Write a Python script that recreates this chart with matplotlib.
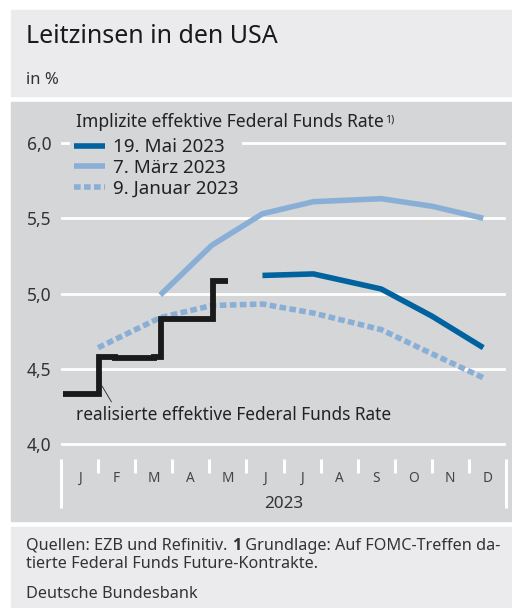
import datetime as dt

import matplotlib.pyplot as plt
from matplotlib.patches import Rectangle

plt.rcParams["font.family"] = ["Noto Sans", "DejaVu Sans"]

# realised effective federal funds rate (daily, step changes)
effr_dates = ["2023-01-03", "2023-02-02", "2023-02-10", "2023-02-14", "2023-03-01",
              "2023-03-10", "2023-03-17", "2023-03-23", "2023-05-04", "2023-05-17"]
effr_values = [4.33, 4.58, 4.58, 4.57, 4.57, 4.57, 4.58, 4.83, 5.08, 5.08]

# FOMC meeting dates for the futures-implied path
fomc_dates = ["2023-02-01", "2023-03-22", "2023-05-03", "2023-06-14",
              "2023-07-26", "2023-09-20", "2023-11-01", "2023-12-13"]
jan9_values = [4.64, 4.84, 4.92, 4.93, 4.87, 4.76, 4.60, 4.44]
mar7_values = [4.99, 5.32, 5.53, 5.61, 5.63, 5.58, 5.50]
may19_values = [5.12, 5.13, 5.03, 4.85, 4.64]

months = ["J", "F", "M", "A", "M", "J", "J", "A", "S", "O", "N", "D"]
y_ticks = [4.0, 4.5, 5.0, 5.5, 6.0]

DARK = "#00629f"
LIGHT = "#8aafd7"
PANEL = "#ebebed"
PLOT_BG = "#d5d6d8"
TEXT = "#333333"


def month_pos(date_str):
    d = dt.date.fromisoformat(date_str)
    nxt = dt.date(d.year + (d.month == 12), d.month % 12 + 1, 1)
    days = (nxt - dt.date(d.year, d.month, 1)).days
    return d.month - 1 + (d.day - 1) / days


W, H = 512, 608
fig = plt.figure(figsize=(W / 100, H / 100), dpi=100)


def fx(px):
    return px / W


def fy(py):
    return 1 - py / H


# background panels
for top, bottom, color in [(10, 96, PANEL), (102, 521, PLOT_BG), (527, 607, PANEL)]:
    fig.patches.append(Rectangle((fx(11), fy(bottom)), fx(W) - fx(11), (bottom - top) / H,
                                 transform=fig.transFigure, color=color, zorder=-5))

# axes: 4.0 at y=444 px, 6.0 at y=143 px
scale = (444 - 143) / 2.0
ax = fig.add_axes([fx(61), fy(444 + 0.1 * scale), fx(506) - fx(61), 2.2 * scale / H])
ax.set_zorder(2)
ax.set_facecolor("none")
ax.set_xlim(0, 12)
ax.set_ylim(3.9, 6.1)
for s in ax.spines.values():
    s.set_visible(False)

ax.set_yticks(y_ticks)
ax.set_yticklabels([f"{v:.1f}".replace(".", ",") for v in y_ticks])
ax.tick_params(axis="y", length=0, pad=7, labelsize=12.5, labelcolor=TEXT)
ax.set_xticks([])
for v in y_ticks:
    ax.axhline(v, color="white", lw=2, zorder=1)

# month separators and labels
for i in range(13):
    low = 3.575 if i in (0, 12) else 3.807
    ax.plot([i, i], [3.9, low], color="white", lw=2.2, clip_on=False, solid_capstyle="butt")
for i, m in enumerate(months):
    ax.text(i + 0.5, 3.774, m, ha="center", va="center", fontsize=9.8, color="#444444")
ax.text(6, 3.60, "2023", ha="center", va="center", fontsize=12.3, color=TEXT)

fomc_x = [month_pos(d) for d in fomc_dates]
effr_x = [month_pos(d) for d in effr_dates]

LW = 4.0
l_jan, = ax.plot(fomc_x, jan9_values, color=LIGHT, lw=LW, dashes=(1.2, 0.6),
                 dash_capstyle="butt", zorder=3)
l_mar, = ax.plot(fomc_x[1:], mar7_values, color=LIGHT, lw=LW, zorder=3,
                 solid_capstyle="butt")
l_may, = ax.plot(fomc_x[3:], may19_values, color=DARK, lw=LW, zorder=4,
                 solid_capstyle="butt")
ax.plot(effr_x, effr_values, color="#1a1a1a", lw=LW + 0.2, drawstyle="steps-post",
        solid_joinstyle="miter", solid_capstyle="butt", zorder=5)

leg = ax.legend([l_may, l_mar, l_jan], ["19. Mai 2023", "7. März 2023", "9. Januar 2023"],
                loc="upper left", bbox_to_anchor=(fx(70), fy(134)), bbox_transform=fig.transFigure,
                frameon=True, facecolor=PLOT_BG, edgecolor="none", framealpha=1, fancybox=False,
                fontsize=13.5, handlelength=1.63, handletextpad=0.43, labelspacing=0.14,
                borderpad=0.22, borderaxespad=0)
for t in leg.get_texts():
    t.set_color("#222222")

lt = ax.text(fx(76), fy(127), "Implizite effektive Federal Funds Rate", fontsize=12.6,
             color="#222222", va="baseline", transform=fig.transFigure)
ax.annotate("1)", xy=(1, 1), xycoords=lt, xytext=(1, -1), textcoords="offset points",
            fontsize=7.5, color="#222222", va="top")

ax.annotate("realisierte effektive Federal Funds Rate", xy=(month_pos("2023-02-04"), 4.385),
            xytext=(0.405, 4.193), textcoords="data", fontsize=12.4, color="#222222",
            va="center", ha="left",
            arrowprops=dict(arrowstyle="-", color="#222222", lw=0.6, relpos=(0.12, 1.0),
                            shrinkA=1, shrinkB=0))

fig.text(fx(26), fy(43), "Leitzinsen in den USA", fontsize=18.0, color="#1a1a1a", va="baseline")
fig.text(fx(26), fy(84), "in %", fontsize=12, color=TEXT, va="baseline")

FS = 11.7
f1 = ax.text(fx(26), fy(550), "Quellen: EZB und Refinitiv. ", fontsize=FS, color=TEXT,
             va="baseline", transform=fig.transFigure)
f2 = ax.annotate("1", xy=(1, 0), xycoords=f1, fontsize=FS, color=TEXT, fontweight="bold",
                 family=["Open Sans", "DejaVu Sans"], va="bottom", ha="left")
ax.annotate(" Grundlage: Auf FOMC-Treffen da-", xy=(1, 0), xycoords=f2, fontsize=FS,
            color=TEXT, va="bottom", ha="left")
fig.text(fx(26), fy(568), "tierte Federal Funds Future-Kontrakte.", fontsize=FS, color=TEXT,
         va="baseline")
fig.text(fx(26), fy(598), "Deutsche Bundesbank", fontsize=FS, color=TEXT, va="baseline")

fig.savefig("out.png", dpi=100)
